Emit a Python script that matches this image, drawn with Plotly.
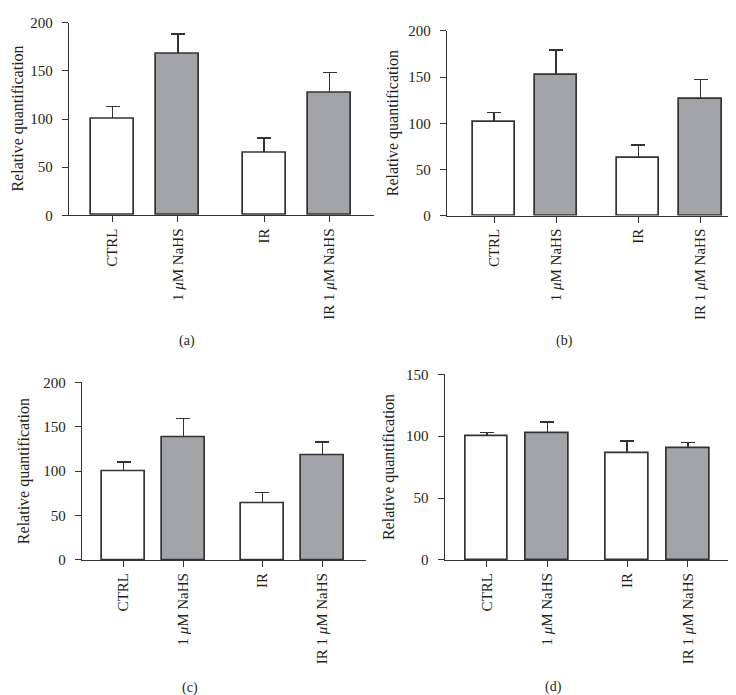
import plotly.graph_objects as go

categories = ["CTRL", "1 <i>μ</i>M NaHS", "IR", "IR 1 <i>μ</i>M NaHS"]
x_pos = [0, 1, 2.32, 3.32]

means_a = [100, 167.5, 65, 127]
err_a = [13, 21, 15.5, 21.5]
means_b = [101, 152.5, 62, 126.5]
err_b = [10.7, 27, 14.2, 21]
means_c = [100, 138.5, 63.5, 118]
err_c = [10, 21, 12.5, 15]
means_d = [100, 102, 86, 90.5]
err_d = [2.8, 9.5, 10, 4.2]

panel_labels = ["(a)", "(b)", "(c)", "(d)"]
y_ticks_200 = [0, 50, 100, 150, 200]
y_ticks_150 = [0, 50, 100, 150]

W, H = 736, 695
FONT = "Liberation Serif"
TXT = "#231f20"
EDGE = "#333333"
GRAY = "#a2a4a7"

panels = [
    dict(m=means_a, e=err_a, px=(61, 366), py=(7, 204), xr=[-0.666, 4.0], w=0.66,
         yr=[0, 200], yt=y_ticks_200, tx=10.5, cap=(179, 333)),
    dict(m=means_b, e=err_b, px=(439, 735), py=(15.3, 204.3), xr=[-0.756, 4.003], w=0.68,
         yr=[0, 200], yt=y_ticks_200, tx=385, cap=(556, 333)),
    dict(m=means_c, e=err_c, px=(74, 358), py=(375, 556.7), xr=[-0.693, 4.048], w=0.71,
         yr=[0, 200], yt=y_ticks_200, tx=16, cap=(182, 688)),
    dict(m=means_d, e=err_d, px=(436.7, 721.7), py=(366.7, 556.7), xr=[-0.693, 4.01], w=0.705,
         yr=[0, 150], yt=y_ticks_150, tx=381, cap=(545, 687)),
]

fig = go.Figure()
annotations = []
for i, p in enumerate(panels):
    n = "" if i == 0 else str(i + 1)
    # error bars (drawn first, so the bars cover the lower cap)
    fig.add_trace(go.Bar(
        x=x_pos, y=p["m"], width=p["w"],
        marker=dict(color="rgba(0,0,0,0)", line=dict(width=0)),
        error_y=dict(type="data", symmetric=False, array=p["e"], arrayminus=[0] * 4,
                     color=EDGE, thickness=1.6, width=7),
        xaxis="x" + n, yaxis="y" + n, showlegend=False, hoverinfo="skip",
    ))
    fig.add_trace(go.Bar(
        x=x_pos, y=p["m"], width=p["w"],
        marker=dict(color=["white", GRAY, "white", GRAY], line=dict(color=EDGE, width=1.7)),
        xaxis="x" + n, yaxis="y" + n, showlegend=False, hoverinfo="skip",
    ))
    ax = dict(
        domain=[p["px"][0] / W, p["px"][1] / W], range=p["xr"], anchor="y" + n,
        tickvals=x_pos, ticktext=categories, tickangle=-90,
        showline=True, linecolor=EDGE, linewidth=1.3, ticks="outside", ticklen=6,
        tickcolor=EDGE, tickwidth=1.3, showgrid=False, zeroline=False,
        tickfont=dict(family=FONT, size=15, color=TXT),
    )
    ay = dict(
        domain=[1 - p["py"][1] / H, 1 - p["py"][0] / H], range=p["yr"], anchor="x" + n,
        tickvals=p["yt"], showline=True, linecolor=EDGE, linewidth=1.3, ticks="outside",
        ticklen=6, tickcolor=EDGE, tickwidth=1.3, showgrid=False, zeroline=False,
        ticklabelstandoff=6,
        tickfont=dict(family=FONT, size=15, color=TXT),
    )
    fig.update_layout(**{"xaxis" + n: ax, "yaxis" + n: ay})
    annotations.append(dict(
        text="Relative quantification", textangle=-90, xref="paper", yref="paper",
        x=p["tx"] / W, y=1 - (p["py"][0] + p["py"][1]) / 2 / H, showarrow=False,
        xanchor="center", yanchor="middle", font=dict(family=FONT, size=16, color=TXT),
    ))
    annotations.append(dict(
        text=panel_labels[i], xref="paper", yref="paper",
        x=p["cap"][0] / W, y=1 - p["cap"][1] / H, showarrow=False,
        xanchor="center", yanchor="middle", font=dict(family=FONT, size=14, color=TXT),
    ))

fig.update_layout(
    width=W, height=H, margin=dict(l=0, r=0, t=0, b=0),
    paper_bgcolor="white", plot_bgcolor="white", annotations=annotations,
    bargap=0, barmode="overlay",
)
fig.write_html("out.html")
